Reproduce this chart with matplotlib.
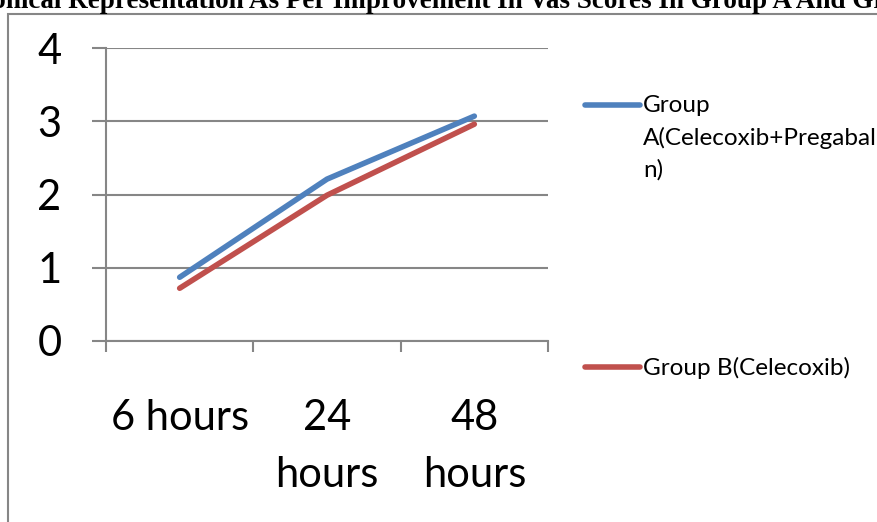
import matplotlib
matplotlib.use('Agg')
import matplotlib.pyplot as plt
from matplotlib.lines import Line2D
from matplotlib.patches import Rectangle

plt.rcParams['font.family'] = ['Lato', 'DejaVu Sans']

times = ['6 hours', '24\nhours', '48\nhours']
group_a = [0.87, 2.21, 3.07]
group_b = [0.72, 1.99, 2.96]
yticks = [0, 1, 2, 3, 4]
title = 'Graphical Representation As Per Improvement In Vas Scores In Group A And Group B'
label_a = 'Group\nA(Celecoxib+Pregabal\nn)'
label_b = 'Group B(Celecoxib)'

W, H = 878, 522
grey = '#868686'
blue = '#4F81BD'
red = '#C0504D'

fig = plt.figure(figsize=(W / 100, H / 100), dpi=100)
ax = fig.add_axes([106 / W, 1 - 341 / H, (548 - 106) / W, (341 - 48) / H])

x = [i + 0.5 for i in range(len(times))]
line_a, = ax.plot(x, group_a, color=blue, lw=4, solid_capstyle='round', zorder=3, clip_on=False)
line_b, = ax.plot(x, group_b, color=red, lw=4, solid_capstyle='round', zorder=3, clip_on=False)

ax.set_xlim(0, len(times))
ax.set_ylim(0, 4)
ax.set_yticks(yticks)
ax.grid(axis='y', color=grey, lw=1.5)
ax.set_axisbelow(True)

# category boundaries as major ticks, names on minor ticks
ax.set_xticks(range(len(times) + 1))
ax.set_xticklabels([])
ax.set_xticks(x, minor=True)
ax.set_xticklabels(times, minor=True, fontsize=30, linespacing=1.6)
ax.tick_params(axis='x', which='minor', length=0, pad=42)
ax.tick_params(axis='x', which='major', length=8, width=1.5, color=grey)
ax.tick_params(axis='y', length=10, width=1.5, color=grey, labelsize=30, pad=22)

for s in ['top', 'right']:
    ax.spines[s].set_visible(False)
for s in ['left', 'bottom']:
    ax.spines[s].set_color(grey)
    ax.spines[s].set_linewidth(1.5)

# chart area border
fig.add_artist(Rectangle((8 / W, -0.1), 1.0, 1 - 14 / H + 0.1, transform=fig.transFigure,
                         fill=False, ec=grey, lw=1.5))

# title, cut at the top of the image
fig.text(449 / W, 1 - 8 / H, title, family=['Liberation Serif', 'DejaVu Serif'],
         weight='bold', fontsize=19.5, ha='center', va='baseline')

# legend
for handle, y in [(line_a, 105), (line_b, 367)]:
    fig.add_artist(Line2D([585 / W, 640 / W], [1 - y / H, 1 - y / H], transform=fig.transFigure,
                          color=handle.get_color(), lw=4, solid_capstyle='round'))
fig.text(643 / W, 1 - 95 / H, label_a, fontsize=17.5, ha='left', va='top', linespacing=1.6)
fig.text(643 / W, 1 - 368 / H, label_b, fontsize=17.5, ha='left', va='center')

fig.savefig('out.png', dpi=100)
